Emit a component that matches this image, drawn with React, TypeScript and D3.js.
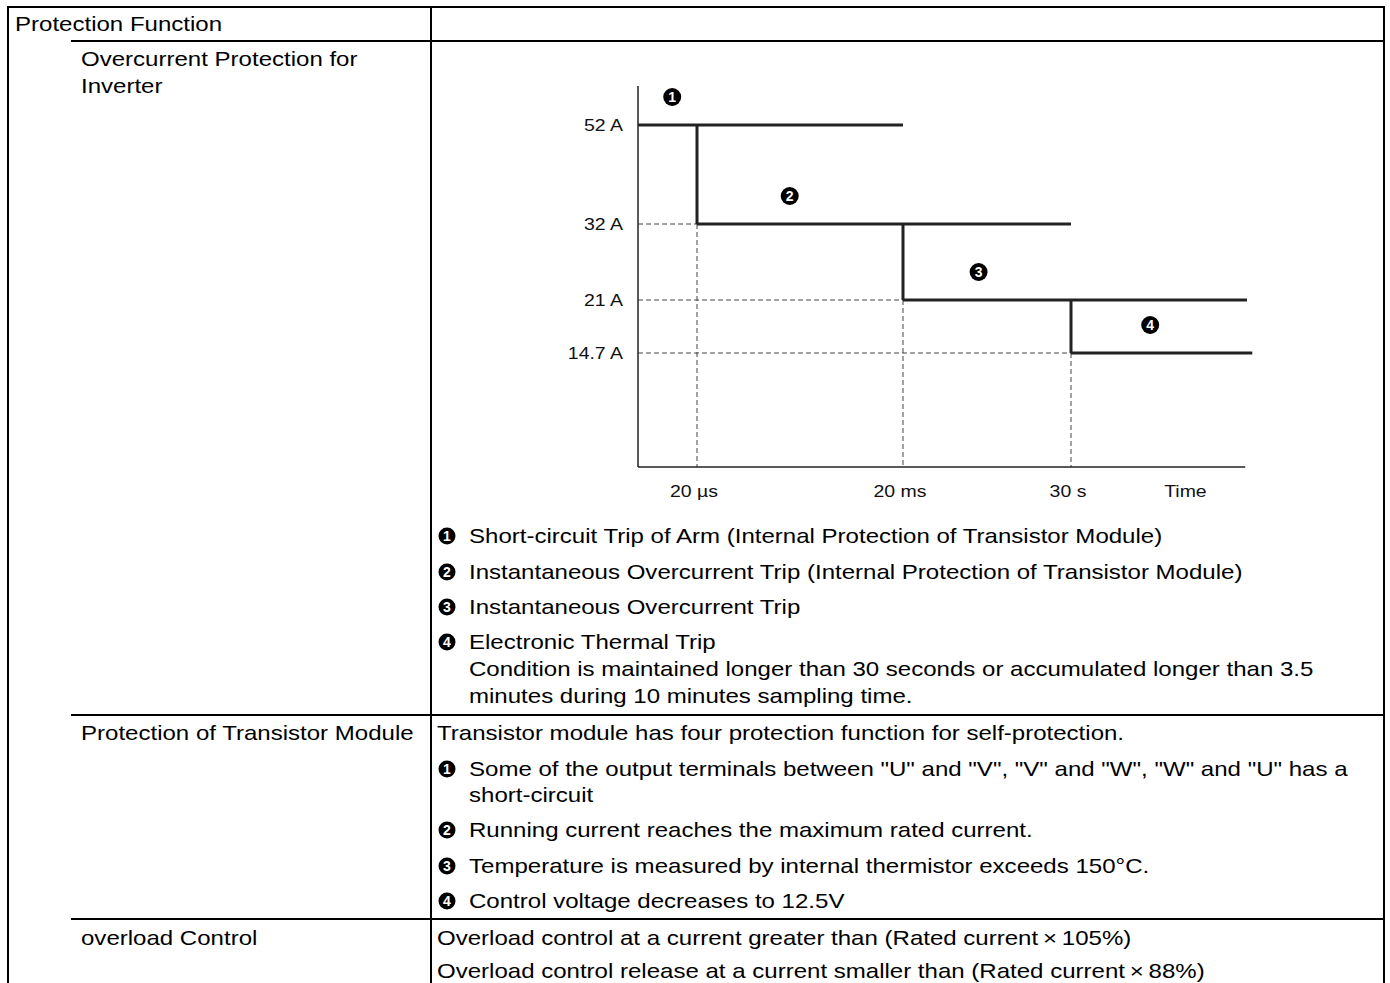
import React from "react";
import * as d3 from "d3";

const levelLabels = ["52 A", "32 A", "21 A", "14.7 A"];
const levelValues = [52, 32, 21, 14.7];
const timeLabels = ["20 µs", "20 ms", "30 s"];
const axisTitle = "Time";

const legendItems = [
  ["Short-circuit Trip of Arm (Internal Protection of Transistor Module)"],
  ["Instantaneous Overcurrent Trip (Internal Protection of Transistor Module)"],
  ["Instantaneous Overcurrent Trip"],
  [
    "Electronic Thermal Trip",
    "Condition is maintained longer than 30 seconds or accumulated longer than 3.5",
    "minutes during 10 minutes sampling time.",
  ],
];

const moduleIntro = "Transistor module has four protection function for self-protection.";
const moduleItems = [
  ['Some of the output terminals between "U" and "V", "V" and "W", "W" and "U" has a', "short-circuit"],
  ["Running current reaches the maximum rated current."],
  ["Temperature is measured by internal thermistor exceeds 150°C."],
  ["Control voltage decreases to 12.5V"],
];
const overloadLines = [
  "Overload control at a current greater than (Rated current\u2009×\u2009105%)",
  "Overload control release at a current smaller than (Rated current\u2009×\u200988%)",
];

const FONT = "'Liberation Sans', Arial, Helvetica, sans-serif";
const FS = 21;
const SX = 1.145;

function T({
  x,
  y,
  children,
  size = FS,
  anchor = "start",
  fill = "#000",
}: {
  x: number;
  y: number;
  children: React.ReactNode;
  size?: number;
  anchor?: string;
  fill?: string;
}) {
  return (
    <text
      transform={`translate(${x},${y}) scale(${SX},1)`}
      fontSize={size}
      textAnchor={anchor as any}
      fill={fill}
    >
      {children}
    </text>
  );
}

function Marker({ x, y, n, r = 9 }: { x: number; y: number; n: number; r?: number }) {
  return (
    <g>
      <circle cx={x} cy={y} r={r} fill="#000" />
      <text x={x} y={y + 4.8} textAnchor="middle" fontSize={14} fontWeight="bold" fill="#fff" fontFamily={FONT}>
        {n}
      </text>
    </g>
  );
}

export default function App() {
  const W = 1390;
  const H = 983;

  // schematic piecewise scales
  const y = d3.scaleLinear().domain([0, ...levelValues.slice().reverse(), 60]).range([467, 353, 300, 224, 125, 86]);
  const x = d3.scaleLinear().domain([0, 1, 2, 3, 4]).range([638, 697, 903, 1071, 1247]);

  const stroke = "#222";
  const dash = "#444";

  const steps = levelValues.map((v, i) => ({
    v,
    x0: i,
    x1: Math.min(i + 2, 4) + (i === 3 ? 0.03 : 0),
  }));

  const drops = levelValues.slice(0, -1).map((v, i) => ({ t: i + 1, from: v, to: levelValues[i + 1] }));

  const line = d3.line<[number, number]>().x((d) => x(d[0])).y((d) => y(d[1]));

  const col = 431;
  const lx = 81;
  const rx = 437;
  const mx = 447;
  const mtx = 469;

  const legendBase = [543, 579, 614, 649];
  const moduleBase = [776, 837, 873, 908];

  return (
    <div style={{ position: "absolute", left: 0, top: 0 }}>
      <svg width={W} height={H} style={{ display: "block" }} fontFamily={FONT}>
        <rect x={0} y={0} width={W} height={H} fill="#fff" />
        {/* table borders */}
        <g stroke="#000" strokeWidth={2} fill="none">
          <line x1={8} y1={7} x2={1384} y2={7} />
          <line x1={8} y1={6} x2={8} y2={H + 2} />
          <line x1={1384} y1={6} x2={1384} y2={H + 2} />
          <line x1={col} y1={6} x2={col} y2={H + 2} />
          <line x1={71} y1={41} x2={1384} y2={41} />
          <line x1={71} y1={715} x2={1384} y2={715} />
          <line x1={71} y1={919} x2={1384} y2={919} />
        </g>
        <T x={15} y={31}>Protection Function</T>
        <T x={lx} y={66}>Overcurrent Protection for</T>
        <T x={lx} y={93}>Inverter</T>
        <T x={lx} y={740}>Protection of Transistor Module</T>
        <T x={lx} y={945}>overload Control</T>

        {/* chart */}
        <g>
          {levelValues.map((v, i) =>
            i === 0 ? null : (
              <g key={"d" + i} stroke={dash} strokeWidth={1} strokeDasharray="5,3">
                <line x1={x(0)} x2={x(i)} y1={y(v)} y2={y(v)} />
                <line x1={x(i)} x2={x(i)} y1={y(v)} y2={y(0)} />
              </g>
            )
          )}
          <line x1={x(0)} x2={x(0)} y1={y(0)} y2={y(60)} stroke={stroke} strokeWidth={1.5} />
          <line x1={x(0)} x2={x(3.99)} y1={y(0)} y2={y(0)} stroke={stroke} strokeWidth={1.5} />
          {steps.map((s, i) => (
            <path key={"s" + i} d={line([[s.x0, s.v], [s.x1, s.v]]) || ""} stroke={stroke} strokeWidth={3} fill="none" />
          ))}
          {drops.map((d, i) => (
            <path key={"v" + i} d={line([[d.t, d.from], [d.t, d.to]]) || ""} stroke={stroke} strokeWidth={3} fill="none" />
          ))}
          {levelLabels.map((l, i) => (
            <T key={"yl" + i} x={x(0) - 15} y={y(levelValues[i]) + 6} anchor="end" size={17} fill="#111">
              {l}
            </T>
          ))}
          {timeLabels.map((l, i) => (
            <T key={"xl" + i} x={x(i + 1) - 3} y={497} anchor="middle" size={17} fill="#111">
              {l}
            </T>
          ))}
          <T x={x(3.65)} y={497} anchor="middle" size={17} fill="#111">
            {axisTitle}
          </T>
          {steps.map((s, i) => {
            const xe = i < 3 ? x(i + 1) : x(4);
            const xs = x(s.x0);
            const cx = xs + (xe - xs) * (i === 0 ? 0.58 : 0.45);
            return <Marker key={"m" + i} x={cx} y={y(s.v) - 28} n={i + 1} r={9} />;
          })}
        </g>

        {/* legend under chart */}
        {legendItems.map((lines, i) => (
          <g key={"lg" + i}>
            <Marker x={mx} y={legendBase[i] - 7} n={i + 1} r={8.5} />
            {lines.map((t, j) => (
              <T key={j} x={mtx} y={legendBase[i] + j * 27}>
                {t}
              </T>
            ))}
          </g>
        ))}

        {/* transistor module */}
        <T x={rx} y={740}>{moduleIntro}</T>
        {moduleItems.map((lines, i) => (
          <g key={"mi" + i}>
            <Marker x={mx} y={moduleBase[i] - 7} n={i + 1} r={8.5} />
            {lines.map((t, j) => (
              <T key={j} x={mtx} y={moduleBase[i] + j * 26}>
                {t}
              </T>
            ))}
          </g>
        ))}

        {/* overload */}
        {overloadLines.map((t, i) => (
          <T key={"ov" + i} x={rx} y={945 + i * 33}>
            {t}
          </T>
        ))}
      </svg>
    </div>
  );
}
